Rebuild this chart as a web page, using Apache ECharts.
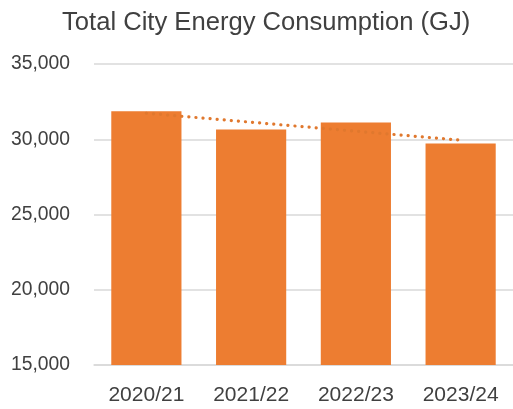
<!DOCTYPE html>
<html>
<head>
<meta charset="utf-8">
<script src="https://cdn.jsdelivr.net/npm/echarts@6/dist/echarts.min.js"></script>
<style>
  html, body { margin: 0; padding: 0; background: #fff; }
  #chart { width: 513px; height: 409px; }
</style>
</head>
<body>
<div id="chart"></div>
<script>
// energy use per financial year
var years = ['2020/21', '2021/22', '2022/23', '2023/24'];
var consumption = [31860, 30645, 31110, 29715];
var yTicks = [15000, 20000, 25000, 30000, 35000];

// linear trendline (least squares) like Excel's
var trend = (function (vals) {
	var n = vals.length, mx = (n - 1) / 2, my = 0, sxy = 0, sxx = 0;
	for (var i = 0; i < n; i++) my += vals[i] / n;
	for (var j = 0; j < n; j++) {
		sxy += (j - mx) * (vals[j] - my);
		sxx += (j - mx) * (j - mx);
	}
	var k = sxy / sxx;
	return vals.map(function (v, i) { return my + k * (i - mx); });
})(consumption);

var font = '"Liberation Sans", Arial, sans-serif';

var option = {
	animation: false,
	title: {
		text: 'Total City Energy Consumption (GJ)',
		left: 57,
		top: 5,
		textStyle: {
			fontFamily: font,
			fontSize: 25.6,
			fontWeight: 'normal',
			color: '#404040'
		}
	},
	grid: {
		left: 94,
		top: 64,
		width: 422,
		height: 301
	},
	xAxis: {
		type: 'category',
		data: years,
		axisLine: { lineStyle: { color: '#d9d9d9', width: 1.5 } },
		axisTick: { show: false },
		axisLabel: {
			fontFamily: font,
			fontSize: 21,
			color: '#404040',
			margin: 20
		}
	},
	yAxis: {
		type: 'value',
		min: yTicks[0],
		max: yTicks[yTicks.length - 1],
		interval: 5000,
		axisLine: { show: false },
		axisTick: { show: false },
		splitLine: { lineStyle: { color: '#d9d9d9', width: 1.5 } },
		axisLabel: {
			fontFamily: font,
			fontSize: 19.3,
			color: '#404040',
			margin: 24,
			formatter: function (v) { return v.toLocaleString('en-US'); }
		}
	},
	series: [
		{
			name: 'Consumption',
			type: 'bar',
			data: consumption,
			barWidth: '67%',
			itemStyle: { color: '#ED7D31' }
		},
		{
			name: 'Trend',
			type: 'line',
			data: trend,
			symbol: 'none',
			z: 3,
			lineStyle: {
				color: '#E0782E',
				width: 3.2,
				type: [0.1, 7],
				cap: 'round'
			}
		}
	]
};

var chart = echarts.init(document.getElementById('chart'));
chart.setOption(option);
</script>
</body>
</html>
